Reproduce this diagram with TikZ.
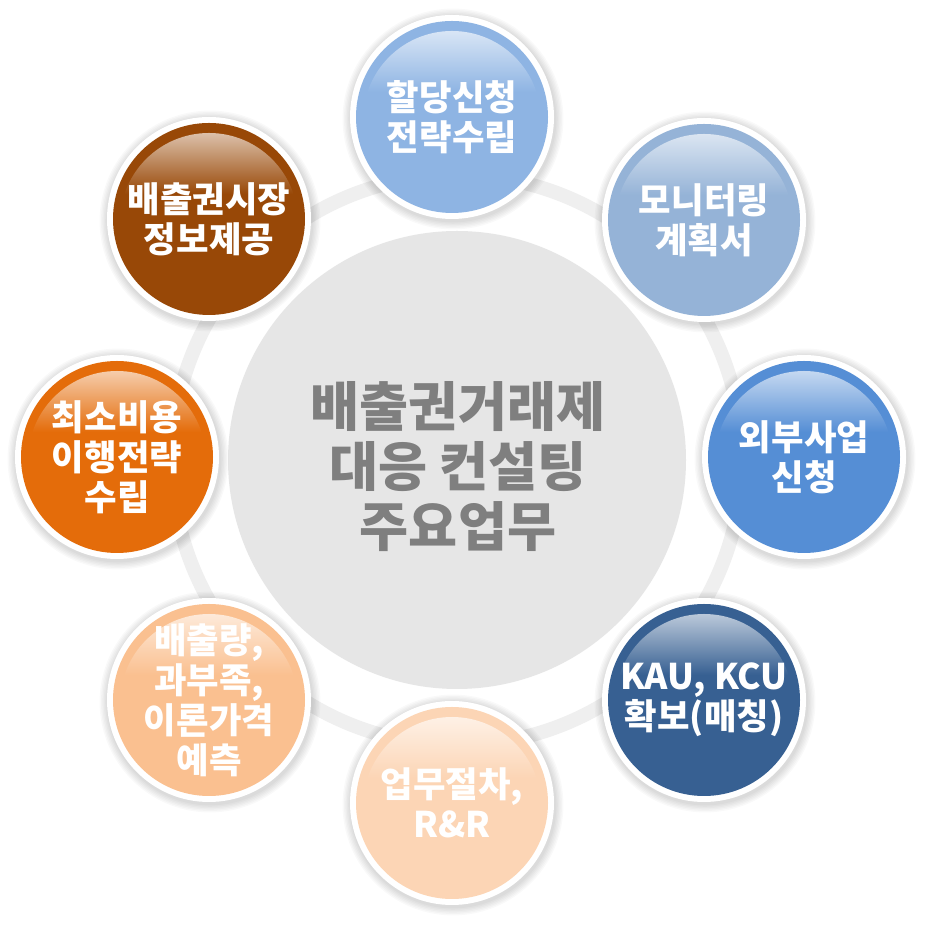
\documentclass[tikz,border=0pt]{standalone}
\usepackage{fontspec}
\setmainfont{Noto Sans CJK KR}
\definecolor{cbrown}{HTML}{984807}
\definecolor{corange}{HTML}{E46C0A}
\definecolor{cpeach}{HTML}{FAC090}
\definecolor{clpeach}{HTML}{FCD5B5}
\definecolor{csky}{HTML}{8EB4E3}
\definecolor{cpale}{HTML}{95B3D7}
\definecolor{cmid}{HTML}{558ED5}
\definecolor{cdark}{HTML}{376092}
\definecolor{ringgray}{HTML}{EFEFEF}
\definecolor{centergray}{HTML}{E6E6E6}
\definecolor{centertext}{HTML}{7F7F7F}
\tikzset{
  sattext/.style={circle, inner sep=0pt, minimum size=150pt, text=white, align=center,
    font=\bfseries\fontsize{26.5}{30}\selectfont},
  centertxt/.style={circle, inner sep=0pt, text=centertext, align=center,
    font=\bfseries\fontsize{40}{45}\selectfont}
}
\newcommand{\satnode}[5]{%
  \foreach \k in {1,...,6} {\fill[black,opacity=0.022] (#2+1,#3-2) circle[radius=102+\k*1.4];}
  \fill[white] (#2,#3) circle[radius=102];
  \fill[#4] (#2,#3) circle[radius=96];
  \begin{scope}
    \clip (#2,#3-3) circle[radius=89];
    \shade[top color=#4!30!white, bottom color=#4] (#2-100,#3+90) rectangle (#2+100,#3+25);
  \end{scope}
  \node[sattext] (#1) at (#2,#3) {#5};
}
\begin{document}
\begin{tikzpicture}[x=0.75pt,y=0.75pt]
\useasboundingbox (0,0) rectangle (928,927);
\fill[white] (0,0) rectangle (928,927);
% ring
\draw[ringgray, line width=10.5pt] (457,467) circle[radius=285];
% center circle
\fill[centergray] (457,467) circle[radius=229];
\node[centertxt] (center) at (458,460) {배출권거래제\\대응 컨설팅\\주요업무};
% satellites
\satnode{s1}{452}{810}{csky}{할당신청\\전략수립}
\satnode{s2}{704}{707}{cpale}{모니터링\\계획서}
\satnode{s3}{804}{470}{cmid}{외부사업\\신청}
\satnode{s4}{704}{227}{cdark}{KAU, KCU\\확보(매칭)}
\satnode{s5}{452}{124}{clpeach}{업무절차,\\R\&R}
\satnode{s6}{209}{227}{cpeach}{배출량,\\과부족,\\이론가격\\예측}
\satnode{s7}{117}{470}{corange}{최소비용\\이행전략\\수립}
\satnode{s8}{209}{708}{cbrown}{배출권시장\\정보제공}
\end{tikzpicture}
\end{document}
